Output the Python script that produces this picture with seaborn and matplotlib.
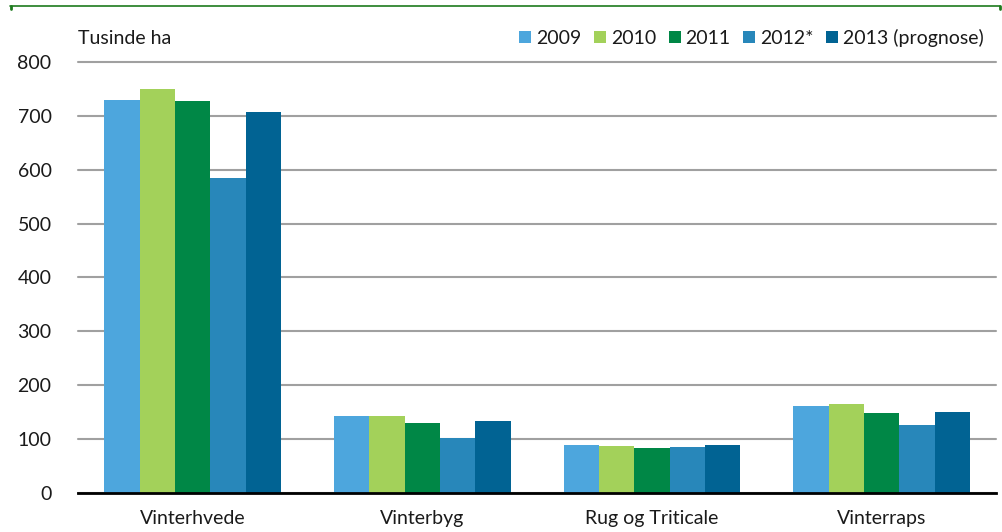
import pandas as pd
import matplotlib.pyplot as plt
import seaborn as sns
from matplotlib.lines import Line2D
from matplotlib.patches import Patch

# ==========================================
# DATA
# ==========================================

crops = ["Vinterhvede", "Vinterbyg", "Rug og Triticale", "Vinterraps"]
years = ["2009", "2010", "2011", "2012*", "2013 (prognose)"]

area_2009 = [729, 143, 89, 162]
area_2010 = [749, 144, 88, 165]
area_2011 = [727, 130, 84, 149]
area_2012 = [584, 102, 86, 126]
area_2013 = [706, 134, 90, 150]

colors = ["#4DA6DD", "#A3D15A", "#008746", "#2887BA", "#016393"]
y_ticks = [0, 100, 200, 300, 400, 500, 600, 700, 800]

rows = []
for year, values in zip(years, [area_2009, area_2010, area_2011, area_2012, area_2013]):
    for crop, v in zip(crops, values):
        rows.append({"Afgrøde": crop, "År": year, "Tusinde ha": v})
df = pd.DataFrame(rows)

# ==========================================
# PLOT
# ==========================================

sns.set_theme(style="white")
plt.rcParams["font.family"] = ["Lato", "DejaVu Sans"]
plt.rcParams["text.color"] = "#1a1a1a"

fs = 14

fig = plt.figure(figsize=(10.02, 5.32), dpi=100)
ax = fig.add_axes([78 / 1002, 1 - 493.3 / 532, (996.5 - 78) / 1002, (493.3 - 61.7) / 532])

sns.barplot(
    data=df,
    x="Afgrøde",
    y="Tusinde ha",
    hue="År",
    hue_order=years,
    order=crops,
    palette=colors,
    saturation=1,
    width=0.77,
    linewidth=0,
    ax=ax,
    legend=False
)

ax.set_ylim(0, 800)
ax.set_xlim(-0.5, len(crops) - 0.5)
ax.set_yticks(y_ticks)
ax.set_xlabel("")
ax.set_ylabel("")
ax.yaxis.grid(True, color="#A0A0A0", linewidth=1.5)
for gl in ax.get_ygridlines():
    gl.set_clip_on(False)
ax.set_axisbelow(True)
for side in ["top", "right", "left"]:
    ax.spines[side].set_visible(False)
ax.spines["bottom"].set_color("black")
ax.spines["bottom"].set_linewidth(2)
ax.spines["bottom"].set_zorder(5)
ax.tick_params(axis="y", length=0, pad=19, labelsize=fs, labelcolor="#1a1a1a")
ax.tick_params(axis="x", length=0, pad=12, labelsize=fs, labelcolor="#1a1a1a")

fig.text(78 / 1002, 1 - 38 / 532, "Tusinde ha", fontsize=fs, va="center", ha="left")

handles = [Patch(facecolor=c, edgecolor="none") for c in colors]
fig.legend(
    handles, years,
    loc="center right",
    bbox_to_anchor=(984 / 1002, 1 - 38 / 532),
    ncol=5,
    frameon=False,
    fontsize=fs,
    handlelength=0.62,
    handleheight=0.62,
    handletextpad=0.25,
    columnspacing=0.65,
    borderaxespad=0,
    borderpad=0
)

# top green rule
green = "#1E7A1E"
fig.add_artist(Line2D([10 / 1002, 1000 / 1002], [1 - 5.5 / 532] * 2, color=green, linewidth=1.2))
fig.add_artist(Line2D([10.5 / 1002] * 2, [1 - 5.5 / 532, 1 - 9 / 532], color=green, linewidth=2))
fig.add_artist(Line2D([999.5 / 1002] * 2, [1 - 5.5 / 532, 1 - 9 / 532], color=green, linewidth=2))

fig.savefig("out.png", dpi=100)
